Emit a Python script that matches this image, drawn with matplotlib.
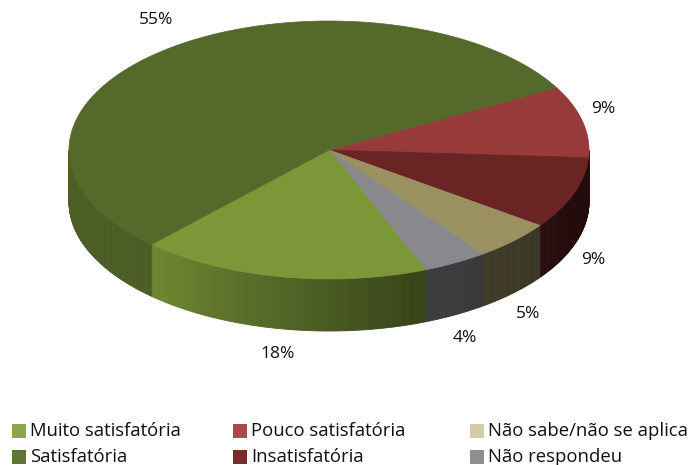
import numpy as np
import matplotlib
matplotlib.use("Agg")
import matplotlib.pyplot as plt
from matplotlib.patches import Polygon, Rectangle
from matplotlib.colors import to_rgb

# data, clockwise order starting at the upper right
labels = ["Pouco satisfatória", "Insatisfatória", "Não sabe/não se aplica",
          "Não respondeu", "Muito satisfatória", "Satisfatória"]
values = [9, 9, 5, 4, 18, 55]
top_colors = ["#963b39", "#6a2424", "#9a9060", "#88888d", "#7b9737", "#55692a"]
legend_colors = {"Muito satisfatória": "#8da64a", "Satisfatória": "#5f7532",
                 "Pouco satisfatória": "#a84a45", "Insatisfatória": "#772d2b",
                 "Não sabe/não se aplica": "#d3cba5", "Não respondeu": "#8e8e8e"}
legend_rows = [["Muito satisfatória", "Pouco satisfatória", "Não sabe/não se aplica"],
               ["Satisfatória", "Insatisfatória", "Não respondeu"]]

plt.rcParams["font.family"] = ["Open Sans", "DejaVu Sans"]

fig = plt.figure(figsize=(6.91, 4.65), dpi=100)
ax = fig.add_axes([0, 0, 1, 1])
ax.set_xlim(0, 691)
ax.set_ylim(465, 0)
ax.axis("off")

# pie geometry (pixels)
cx, cy, a, b, depth = 329, 150, 260, 129, 52
start = 29.0

def pt(t):
    r = np.radians(t)
    return cx + a * np.cos(r), cy - b * np.sin(r)

def shade(t):
    t = (t + 180) % 360 - 180
    return np.interp(t, [-180, -130, -70, -40, 0], [0.9, 0.88, 0.45, 0.38, 0.3])

cum = np.concatenate([[0], np.cumsum(values)]) / sum(values) * 360
spans = [(start - cum[i + 1], start - cum[i]) for i in range(len(values))]

# side walls
for (t1, t2), c in zip(spans, top_colors):
    base = np.array(to_rgb(c))
    ts = np.arange(t1, t2, 0.5)
    ts = np.append(ts, t2)
    for u, v in zip(ts[:-1], ts[1:]):
        if np.sin(np.radians((u + v) / 2)) >= 0:
            continue
        x1, y1 = pt(u)
        x2, y2 = pt(v)
        col = np.clip(base * shade((u + v) / 2), 0, 1)
        ax.add_patch(Polygon([(x1, y1), (x2, y2), (x2, y2 + depth), (x1, y1 + depth)],
                             closed=True, facecolor=col, edgecolor=col, lw=0.6))

# top faces
for (t1, t2), c in zip(spans, top_colors):
    ts = np.linspace(t1, t2, 200)
    xs, ys = pt(ts)
    poly = [(cx, cy)] + list(zip(xs, ys))
    ax.add_patch(Polygon(poly, closed=True, facecolor=c, edgecolor=c, lw=0.5))

# percentage labels
for (t1, t2), v in zip(spans, values):
    m = np.radians((t1 + t2) / 2)
    x = cx + 1.08 * a * np.cos(m)
    if np.sin(m) >= 0:
        y = cy - 1.22 * b * np.sin(m) - 6
    else:
        y = cy - 1.12 * b * np.sin(m) + depth + 10
    ax.text(x, y, f"{v}%", ha="center", va="center", fontsize=12.5, color="#111111")

# legend
col_x = [12, 233, 470]
row_y = [431, 457]
for r, row in enumerate(legend_rows):
    for k, name in enumerate(row):
        ax.add_patch(Rectangle((col_x[k], row_y[r] - 7), 14, 14,
                               facecolor=legend_colors[name], edgecolor="none"))
        ax.text(col_x[k] + 18, row_y[r], name, ha="left", va="center",
                fontsize=13.3, color="#111111")

fig.savefig("out.png", dpi=100)
